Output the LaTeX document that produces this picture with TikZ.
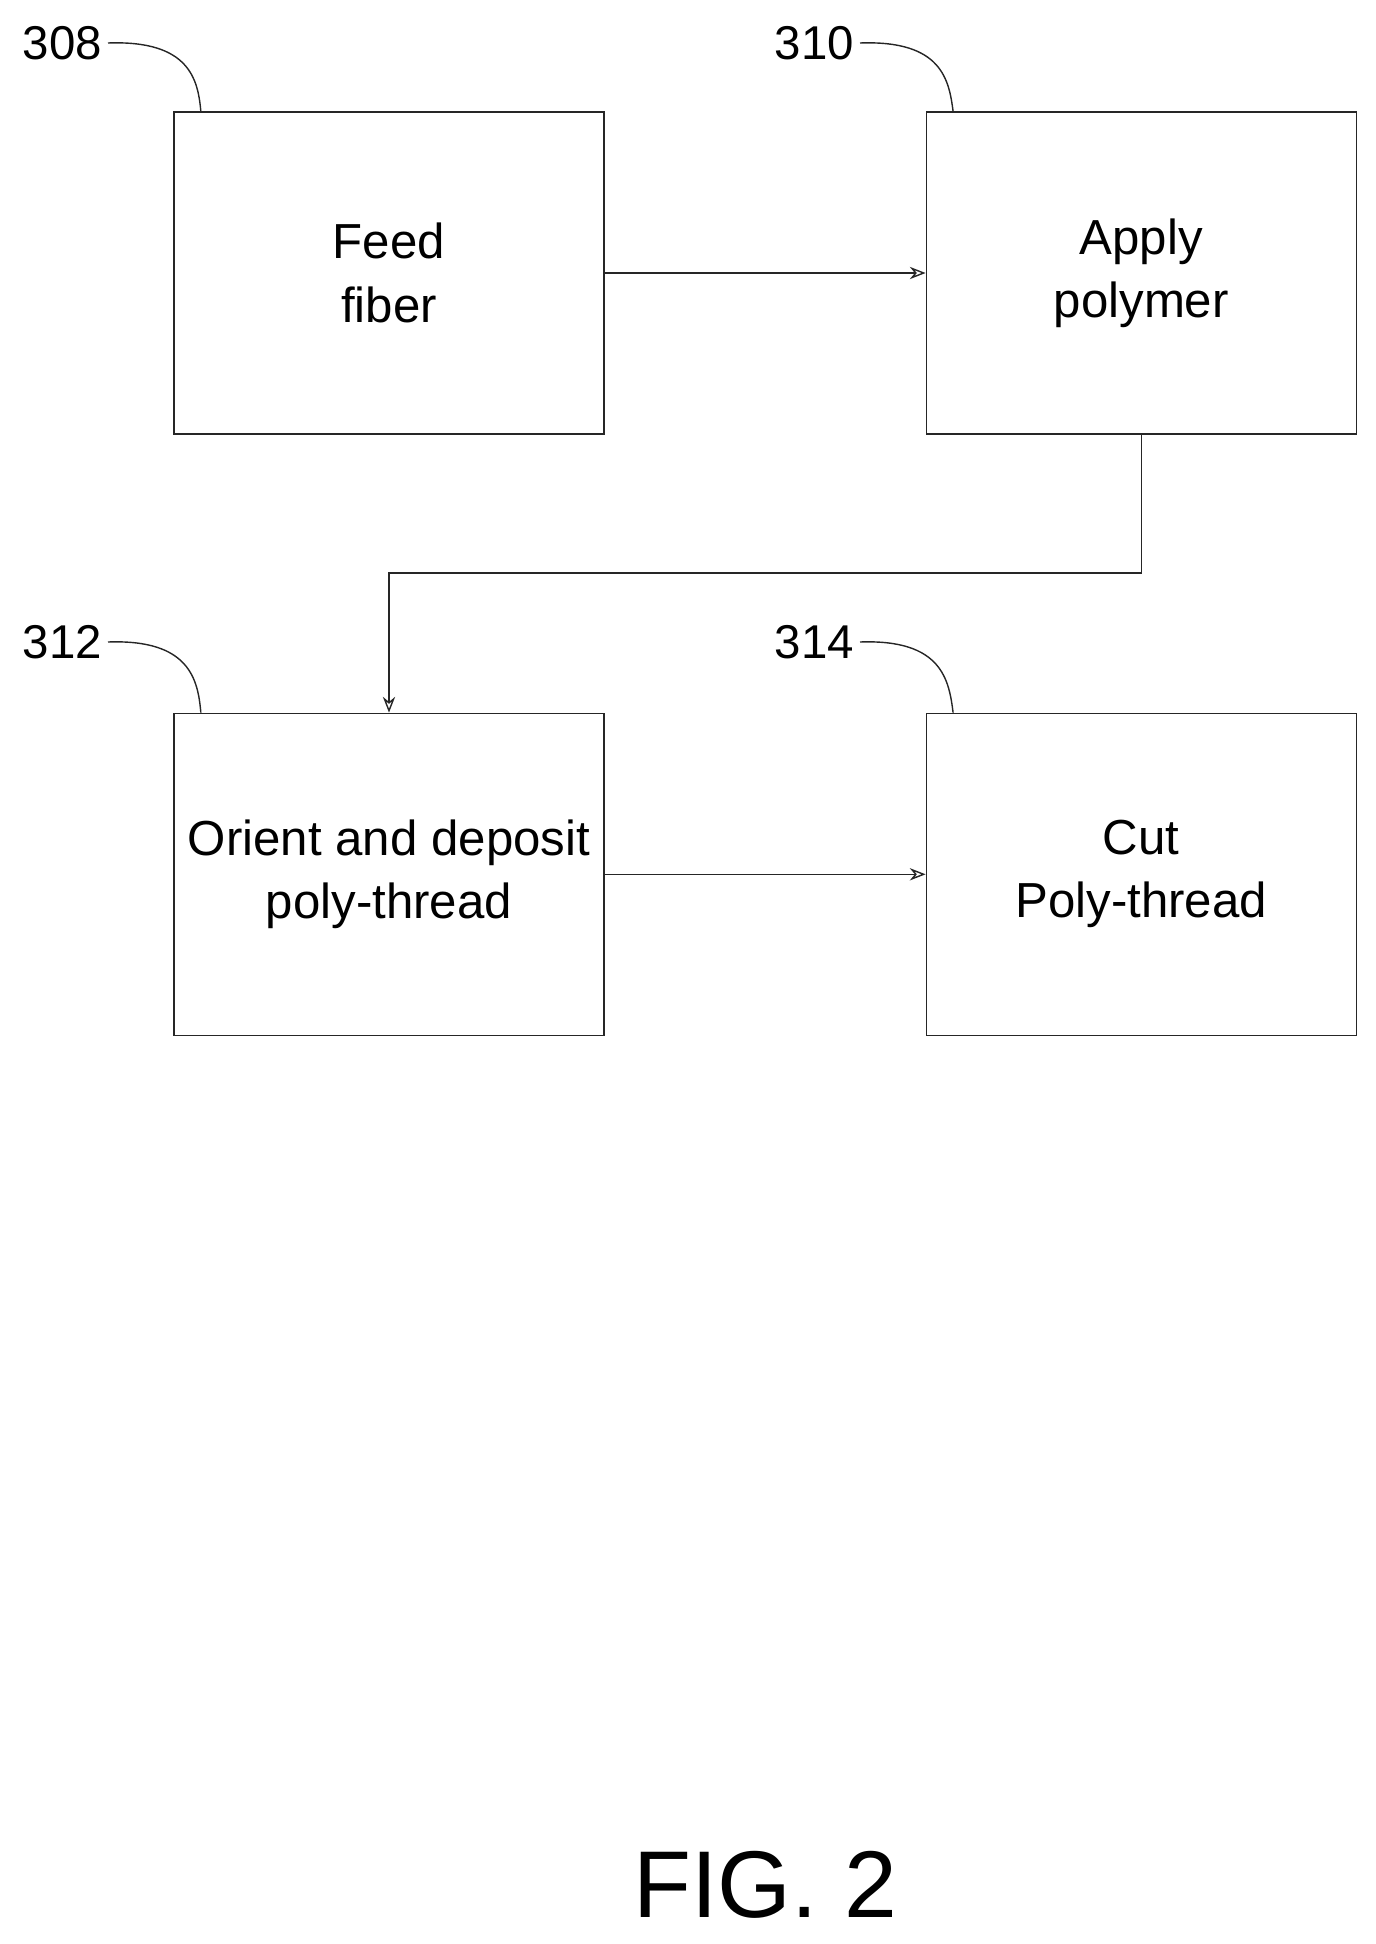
\documentclass[tikz,border=0pt]{standalone}
\usepackage{fontspec}
\setmainfont{Liberation Sans}
\usetikzlibrary{positioning,arrows.meta}
\tikzset{
  stepbox/.style={draw=black!85, line width=0.8pt, minimum width=8.6cm, minimum height=6.44cm,
    inner sep=0pt, align=center, font=\fontsize{28}{36}\selectfont},
  flow/.style={draw=black!85, line width=0.8pt, -{Stealth[length=9pt,width=7pt,open]}},
  refnum/.style={font=\fontsize{27}{30}\selectfont},
  lead/.style={draw=black!85, line width=0.8pt}
}
\begin{document}
\begin{tikzpicture}[x=0.02cm,y=-0.02cm]
  \useasboundingbox (0,0) rectangle (1376,1944);
  % steps
  \node[stepbox] (feed) at (389,273) {Feed\\fiber};
  \node[stepbox, right=6.42cm of feed] (apply) {Apply\\polymer};
  \node[stepbox, below=5.56cm of feed] (orient) {Orient and deposit\\poly-thread};
  \node[stepbox, right=6.42cm of orient] (cut) {Cut\\Poly-thread};
  % flow
  \coordinate (bend) at (389,573);
  \draw[flow] (apply.south) |- (bend) -- (orient.north);
  \draw[flow] (feed) -- (apply);
  \draw[flow] (orient) -- (cut);
  % reference numerals
  \node[refnum, anchor=east] (n308) at (108,43) {308};
  \node[refnum, anchor=east] (n310) at (860,43) {310};
  \node[refnum, anchor=east] (n312) at (108,642) {312};
  \node[refnum, anchor=east] (n314) at (860,642) {314};
  \draw[lead] (n308.east) .. controls (190,40) and (198,80) .. ([xshift=0.55cm]feed.north west);
  \draw[lead] (n310.east) .. controls (942,40) and (949,80) .. ([xshift=0.55cm]apply.north west);
  \draw[lead] (n312.east) .. controls (190,639) and (198,680) .. ([xshift=0.55cm]orient.north west);
  \draw[lead] (n314.east) .. controls (942,639) and (949,680) .. ([xshift=0.55cm]cut.north west);
  % caption
  \node[font=\fontsize{54}{60}\selectfont] (fig) at (765,1885) {FIG. 2};
\end{tikzpicture}
\end{document}
